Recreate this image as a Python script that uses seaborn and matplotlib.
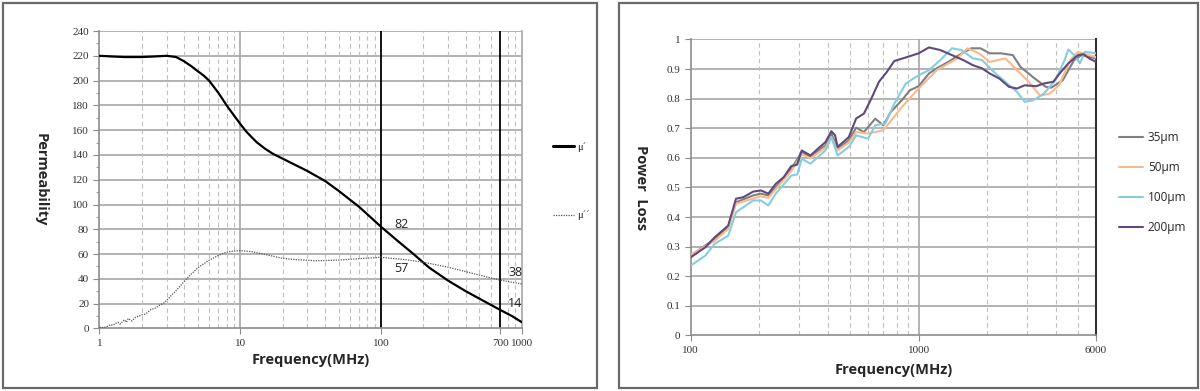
import numpy as np
import pandas as pd
import matplotlib
matplotlib.use('Agg')
import matplotlib.pyplot as plt
import seaborn as sns
from matplotlib.patches import Rectangle
from matplotlib.lines import Line2D

# ---- left chart: permeability ----
mu1_f = [1, 1.2, 1.5, 2, 2.5, 3, 3.5, 4, 4.5, 5, 5.5, 6, 7, 8, 9, 10, 11, 12, 13, 15, 17, 20, 25,
         30, 40, 50, 70, 100, 130, 170, 220, 300, 400, 500, 700, 850, 1000]
mu1_v = [220, 219.5, 219, 219, 219.5, 220, 219, 215.5, 211.5, 207.5, 204, 200, 190, 180, 172, 165,
         159, 154.5, 150.5, 145, 141, 137, 131.5, 127, 119, 111, 98, 82, 71, 60, 49, 38.5, 30, 24,
         15, 10, 5]
mu2_f = [1, 1.05, 1.1, 1.15, 1.2, 1.25, 1.3, 1.35, 1.4, 1.5, 1.55, 1.6, 1.7, 1.75, 1.8, 1.9, 2.0,
         2.1, 2.2, 2.3, 2.5, 2.7, 2.9, 3.2, 3.6, 4, 4.5, 5, 6, 7, 8, 9, 10, 12, 16, 20, 25, 35, 50,
         70, 100, 150, 200, 300, 500, 700, 1000]
mu2_v = [1, 0.5, 1, 2, 3, 2.5, 4, 5, 3.5, 7, 5, 8, 6, 7.5, 9, 10, 11, 11.5, 13, 15, 16.5, 19, 21,
         26, 32, 38, 44, 49, 55, 59, 61.5, 62.5, 62.8, 62, 59, 56.6, 55.5, 54.6, 55.2, 56.3, 57.4,
         55.5, 53.4, 49.4, 43, 39, 35.9]
notes = [(139, 84, '82'), (139, 48, '57'), (896, 45, '38'), (896, 20, '14')]

# ---- right chart: power loss ----
f35 = [100, 127.5, 146, 158, 188, 203, 219, 236, 276, 307, 335, 390, 414, 441, 494, 532, 575, 645,
       700, 755, 845, 915, 1000, 1110, 1200, 1350, 1480, 1700, 1870, 2050, 2300, 2590, 2800, 3160,
       3610, 3820, 4290, 4810, 5190, 6000]
v35 = [0.27, 0.326, 0.366, 0.45, 0.473, 0.479, 0.473, 0.5, 0.563, 0.62, 0.603, 0.642, 0.682, 0.63,
       0.659, 0.702, 0.687, 0.732, 0.71, 0.755, 0.795, 0.828, 0.842, 0.885, 0.902, 0.924, 0.944,
       0.97, 0.97, 0.953, 0.953, 0.947, 0.907, 0.874, 0.84, 0.837, 0.862, 0.93, 0.947, 0.936]
f50 = [100, 127.5, 146, 158, 203, 219, 276, 307, 335, 390, 414, 441, 494, 532, 600, 700, 845, 1000,
       1200, 1480, 1640, 1840, 2050, 2400, 2700, 3040, 3410, 3760, 4130, 4630, 5000, 6000]
v50 = [0.272, 0.32, 0.36, 0.445, 0.47, 0.465, 0.555, 0.612, 0.598, 0.635, 0.67, 0.625, 0.652,
       0.687, 0.682, 0.693, 0.772, 0.834, 0.896, 0.936, 0.97, 0.953, 0.924, 0.936, 0.896, 0.857,
       0.81, 0.817, 0.845, 0.93, 0.958, 0.94]
f100 = [100, 116, 127.5, 146, 158, 188, 203, 219, 236, 276, 293, 307, 335, 390, 414, 441, 494,
        532, 600, 645, 715, 782, 878, 1000, 1110, 1245, 1400, 1540, 1730, 1900, 2140, 2400, 2700,
        2920, 3160, 3280, 3540, 3980, 4370, 4540, 4810, 5100, 5370, 6000]
v100 = [0.236, 0.27, 0.31, 0.337, 0.416, 0.456, 0.456, 0.439, 0.479, 0.54, 0.544, 0.597, 0.58,
        0.625, 0.67, 0.608, 0.637, 0.676, 0.665, 0.71, 0.716, 0.783, 0.851, 0.879, 0.896, 0.93,
        0.97, 0.964, 0.936, 0.93, 0.89, 0.857, 0.823, 0.789, 0.794, 0.8, 0.817, 0.862, 0.93,
        0.966, 0.947, 0.919, 0.958, 0.953]
f200 = [100, 116, 127.5, 146, 158, 170, 188, 203, 219, 236, 256, 276, 293, 307, 335, 369, 390,
        414, 430, 441, 466, 494, 532, 575, 620, 670, 725, 782, 878, 1000, 1110, 1245, 1400, 1572,
        1730, 1900, 2050, 2260, 2490, 2700, 2920, 3280, 3540, 3900, 4210, 4540, 5000, 5290, 5600,
        6000]
v200 = [0.264, 0.298, 0.332, 0.371, 0.462, 0.467, 0.486, 0.49, 0.479, 0.512, 0.535, 0.572, 0.577,
        0.625, 0.608, 0.637, 0.653, 0.69, 0.676, 0.637, 0.653, 0.67, 0.733, 0.749, 0.8, 0.857,
        0.89, 0.927, 0.939, 0.953, 0.973, 0.964, 0.947, 0.93, 0.913, 0.902, 0.885, 0.868, 0.84,
        0.834, 0.845, 0.842, 0.851, 0.857, 0.89, 0.919, 0.947, 0.95, 0.936, 0.924]
labels = ['35µm', '50µm', '100µm', '200µm']
colors = ['#7F7F7F', '#F9B98C', '#86CDE0', '#604A7B']

sns.set_style('white')
plt.rcParams['font.family'] = ['Liberation Serif', 'DejaVu Sans']
lab_font = dict(family='Open Sans', fontweight='bold', fontsize=10.5)

fig = plt.figure(figsize=(12, 3.91), dpi=100)
# panel frames
fig.patches.append(Rectangle((0.0025, 0.008), 0.495, 0.984, transform=fig.transFigure,
                             fill=False, edgecolor='#6a6a6a', linewidth=1.6))
fig.patches.append(Rectangle((0.516, 0.008), 0.4825, 0.984, transform=fig.transFigure,
                             fill=False, edgecolor='#6a6a6a', linewidth=1.6))

ax1 = fig.add_axes([0.0829, 0.16, 0.352, 0.7607])
ax2 = fig.add_axes([0.5756, 0.142, 0.3377, 0.7572])

# left chart
d1 = pd.DataFrame({'f': mu1_f, 'v': mu1_v})
d2 = pd.DataFrame({'f': mu2_f, 'v': mu2_v})
sns.lineplot(data=d1, x='f', y='v', ax=ax1, color='black', linewidth=1.6, estimator=None, zorder=5)
sns.lineplot(data=d2, x='f', y='v', ax=ax1, color='#555555', linewidth=0.9, linestyle=(0, (1, 1)),
             estimator=None, zorder=5)
ax1.set_xscale('log')
ax1.set_xlim(1, 1000)
ax1.set_ylim(0, 240)
ax1.set_yticks(range(0, 241, 20))
ax1.set_yticks(range(0, 241, 10), minor=True)
ax1.set_xticks([1, 10, 100, 700, 1000])
ax1.set_xticklabels(['1', '10', '100', '700', '1000'])
ax1.xaxis.set_minor_locator(matplotlib.ticker.NullLocator())
for y in range(20, 241, 20):
    ax1.axhline(y, color='#a6a6a6', linewidth=1.2, zorder=1)
for dec in [1, 10, 100]:
    for m in range(2, 10):
        if dec * m == 700:
            continue
        ax1.axvline(dec * m, color='#bfbfbf', linewidth=0.8, linestyle=(0, (4, 3)), zorder=1)
ax1.axvline(10, color='#a6a6a6', linewidth=1.2, zorder=1)
ax1.axvline(100, color='black', linewidth=1.3, zorder=2)
ax1.axvline(700, color='black', linewidth=1.3, zorder=2)
for x, y, t in notes:
    ax1.text(x, y, t, ha='center', va='center', fontsize=9, family='Open Sans', color='#222222')
ax1.set_xlabel('Frequency(MHz)', labelpad=4, **lab_font)
ax1.set_ylabel('Permeability', **lab_font)
ax1.yaxis.label.set_rotation(270)
ax1.yaxis.set_label_coords(-0.155, 0.5)
leg1 = [Line2D([], [], color='black', linewidth=2.2),
        Line2D([], [], color='#555555', linewidth=0.9, linestyle=(0, (1, 1)))]
ax1.legend(leg1, ['μ´', 'μ´´'], loc='upper left', bbox_to_anchor=(0.453, 0.66),
           bbox_transform=fig.transFigure, frameon=False, handlelength=2.0, handletextpad=0.3,
           labelspacing=5.65, fontsize=7.5)

# right chart
long = pd.concat([
    pd.DataFrame({'f': f35, 'v': v35, 's': labels[0]}),
    pd.DataFrame({'f': f50, 'v': v50, 's': labels[1]}),
    pd.DataFrame({'f': f100, 'v': v100, 's': labels[2]}),
    pd.DataFrame({'f': f200, 'v': v200, 's': labels[3]}),
])
sns.lineplot(data=long, x='f', y='v', hue='s', palette=colors, hue_order=labels, ax=ax2,
             linewidth=1.5, estimator=None, zorder=5)
ax2.set_xscale('log')
ax2.set_xlim(100, 6000)
ax2.set_ylim(0, 1)
ax2.set_yticks(np.arange(0, 1.01, 0.1))
ax2.set_yticklabels(['0', '0.1', '0.2', '0.3', '0.4', '0.5', '0.6', '0.7', '0.8', '0.9', '1'])
ax2.set_xticks([100, 1000, 6000])
ax2.set_xticklabels(['100', '1000', '6000'])
ax2.xaxis.set_minor_locator(matplotlib.ticker.NullLocator())
for y in np.arange(0.1, 1.01, 0.1):
    ax2.axhline(y, color='#a6a6a6', linewidth=1.2, zorder=1)
for x in [200, 300, 400, 500, 600, 700, 800, 900, 2000, 3000, 4000, 5000]:
    ax2.axvline(x, color='#bfbfbf', linewidth=0.8, linestyle=(0, (4, 3)), zorder=1)
ax2.axvline(1000, color='#a6a6a6', linewidth=1.2, zorder=1)
ax2.set_xlabel('Frequency(MHz)', labelpad=5.5, **lab_font)
ax2.set_ylabel('Power  Loss', **lab_font)
ax2.yaxis.label.set_rotation(270)
ax2.yaxis.set_label_coords(-0.14, 0.5)
h, l = ax2.get_legend_handles_labels()
ax2.legend(h, l, loc='upper left', bbox_to_anchor=(0.924, 0.693), bbox_transform=fig.transFigure,
           frameon=False, handlelength=2.0, handletextpad=0.4, labelspacing=1.45,
           prop={'family': 'Open Sans', 'size': 8.5})

for ax in (ax1, ax2):
    for side in ['left', 'bottom']:
        ax.spines[side].set_color('#8c8c8c')
        ax.spines[side].set_linewidth(1.2)
    ax.spines['top'].set_visible(False)
    ax.tick_params(axis='both', which='major', labelsize=8, length=4, color='#8c8c8c',
                   direction='out', left=True, bottom=True, labelcolor='#333333')
    ax.tick_params(axis='y', which='minor', length=2, color='#8c8c8c', left=True)
ax1.spines['right'].set_color('#a6a6a6')
ax1.spines['right'].set_linewidth(1.2)
ax2.spines['right'].set_color('#333333')
ax2.spines['right'].set_linewidth(1.5)

fig.savefig('out.png', dpi=100)
